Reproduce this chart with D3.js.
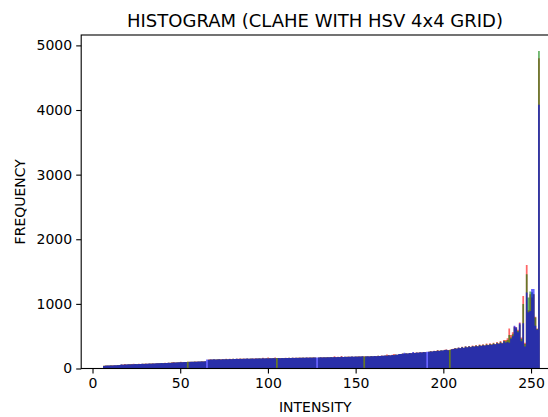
<!DOCTYPE html>
<html>
<head>
<meta charset="utf-8">
<script src="https://cdn.jsdelivr.net/npm/d3@7"></script>
<style>
  body { margin: 0; background: #fff; }
  svg text { font-family: "DejaVu Sans", sans-serif; fill: #000; }
</style>
</head>
<body>
<svg id="vis" width="548" height="417"></svg>
<script>
// histogram counts per bin, intensities 6..255 (one value per bin)
const firstBin = 6;
const lastBin = 255;

const redCounts = [
  42,46,48,47,50,49,52,51,54,56,
  63,60,70,63,66,68,68,72,70,69,
  72,71,74,73,76,75,78,77,80,79,
  82,84,83,86,85,88,87,90,89,96,
  100,93,96,98,104,99,102,101,106,104,
  106,105,108,107,110,109,112,111,114,0,
  140,142,140,144,141,143,146,142,146,144,
  150,145,149,146,150,148,151,149,156,150,
  153,151,155,152,154,156,153,157,155,158,
  156,165,157,160,170,161,159,162,172,164,
  163,161,164,162,165,163,166,164,167,165,
  168,166,169,167,170,168,171,169,172,170,
  173,171,0,172,175,173,176,174,177,175,
  178,176,190,177,180,178,195,179,183,181,
  184,182,186,183,187,185,188,186,190,189,
  189,191,188,193,190,195,192,197,194,200,
  198,203,215,207,204,211,225,216,213,222,
  226,232,230,236,234,240,238,244,242,248,
  246,252,250,257,254,0,260,270,264,275,
  272,285,276,282,280,290,294,286,290,300,
  305,318,310,326,316,338,322,345,330,348,
  336,355,346,362,350,370,356,375,360,385,
  368,390,375,400,380,410,392,425,400,440,
  440,470,620,520,560,650,640,600,710,480,
  1120,400,1600,900,1150,1100,1150,800,620,4800
];

const greenCounts = [
  41,45,47,46,49,48,51,50,53,55,
  61,59,63,62,65,64,67,66,69,68,
  71,70,73,72,75,74,77,76,79,78,
  81,83,86,85,84,87,86,89,88,91,
  93,92,95,97,99,98,101,100,103,103,
  105,104,107,106,109,108,111,110,113,0,
  137,141,139,143,140,142,144,141,145,143,
  146,144,148,145,149,147,150,148,151,149,
  152,150,154,151,153,155,152,156,154,157,
  155,158,156,159,157,160,158,161,159,162,
  162,160,163,161,164,162,165,163,166,164,
  167,165,168,166,169,167,170,168,171,169,
  172,170,0,171,174,172,175,173,176,174,
  177,175,178,176,179,177,181,178,182,180,
  183,181,185,182,186,184,187,185,189,186,
  188,190,187,192,189,194,191,196,193,199,
  197,202,200,206,203,210,207,215,212,224,
  225,231,229,235,233,239,237,243,241,247,
  245,251,249,256,253,0,259,266,263,272,
  270,278,274,282,280,288,292,284,285,298,
  303,314,308,323,314,334,320,340,328,344,
  333,350,342,356,346,362,352,368,356,375,
  363,380,370,390,375,400,385,412,392,430,
  420,440,520,480,530,640,620,580,680,460,
  1000,380,1460,1100,1190,1180,1150,790,610,4915
];

const blueCounts = [
  40,44,46,45,48,47,50,49,52,54,
  60,58,62,61,64,63,66,65,68,67,
  70,69,72,71,74,73,76,75,78,77,
  80,82,81,84,83,86,85,88,87,90,
  92,91,94,96,98,97,100,99,0,102,
  104,103,106,105,108,107,110,109,112,138,
  136,140,138,142,139,141,143,140,144,142,
  145,143,147,144,148,146,149,147,150,148,
  151,149,153,150,152,154,151,155,153,156,
  154,157,155,158,156,159,157,160,158,0,
  161,159,162,160,163,161,164,162,165,163,
  166,164,167,165,168,166,169,167,170,168,
  171,169,172,170,173,171,174,172,175,173,
  176,174,177,175,178,176,180,177,181,179,
  182,180,184,181,185,183,186,184,188,0,
  187,189,186,191,188,193,190,195,192,198,
  196,201,199,205,202,209,206,214,211,226,
  224,230,245,234,232,238,236,255,240,246,
  244,250,248,255,252,260,258,265,262,270,
  268,275,272,280,278,285,290,282,0,295,
  300,310,305,320,312,330,318,335,325,340,
  330,345,338,350,342,355,348,360,352,365,
  358,372,365,380,370,390,378,400,385,420,
  400,410,400,460,500,660,640,560,700,420,
  700,340,1175,870,890,1230,1230,660,600,4080
];

const xTicks = [0, 50, 100, 150, 200, 250];
const yTicks = [0, 1000, 2000, 3000, 4000, 5000];

const series = [
  { name: "red", color: "rgb(255,0,0)", counts: redCounts },
  { name: "green", color: "rgb(0,128,0)", counts: greenCounts },
  { name: "blue", color: "rgb(0,0,255)", counts: blueCounts }
];

// axes box (plot area in pixels)
var axL = 81.2, axR = 549.2, axT = 35, axB = 368.5;

var svg = d3.select("#vis");

var span = lastBin - firstBin;
var x = d3.scaleLinear()
  .domain([firstBin - 0.05 * span, 260.35])
  .range([axL, axR]);

var ymax = d3.max(series, s => d3.max(s.counts)) * 1.05;
var y = d3.scaleLinear().domain([0, ymax]).range([axB, axT]);

var nBins = redCounts.length;
var binW = span / nBins;

svg.append("defs").append("clipPath").attr("id", "clip")
  .append("rect").attr("x", axL).attr("y", axT)
  .attr("width", axR - axL).attr("height", axB - axT);

// one path per channel so the bars of a channel don't show seams
var plot = svg.append("g").attr("clip-path", "url(#clip)");
series.forEach(function (s) {
  var p = d3.path();
  s.counts.forEach(function (c, k) {
    if (c <= 0) return;
    var x0 = x(firstBin + k * binW), x1 = x(firstBin + (k + 1) * binW);
    p.rect(x0, y(c), x1 - x0, y(0) - y(c));
  });
  plot.append("path")
    .attr("d", p.toString())
    .attr("fill", s.color)
    .attr("fill-opacity", 0.6);
});

// x axis
var xAxis = svg.append("g")
  .attr("transform", "translate(0," + axB + ")")
  .call(d3.axisBottom(x).tickValues(xTicks).tickSize(5).tickPadding(5).tickFormat(d3.format("d")));
xAxis.select(".domain").remove();
xAxis.selectAll("line").attr("stroke", "#000").attr("stroke-width", 1.1);
xAxis.selectAll("text").attr("font-size", 14).attr("font-family", "DejaVu Sans").attr("fill", "#000");

// y axis
var yAxis = svg.append("g")
  .attr("transform", "translate(" + axL + ",0)")
  .call(d3.axisLeft(y).tickValues(yTicks).tickSize(5).tickPadding(4).tickFormat(d3.format("d")));
yAxis.select(".domain").remove();
yAxis.selectAll("line").attr("stroke", "#000").attr("stroke-width", 1.1);
yAxis.selectAll("text").attr("font-size", 14).attr("font-family", "DejaVu Sans").attr("fill", "#000");

// frame
svg.append("rect")
  .attr("x", axL).attr("y", axT)
  .attr("width", axR - axL).attr("height", axB - axT)
  .attr("fill", "none").attr("stroke", "#000").attr("stroke-width", 1.1);

// labels
svg.append("text")
  .attr("x", 315).attr("y", 27)
  .attr("text-anchor", "middle")
  .attr("font-size", 18)
  .text("HISTOGRAM (CLAHE WITH HSV 4x4 GRID)");

svg.append("text")
  .attr("x", (axL + axR) / 2).attr("y", 412)
  .attr("text-anchor", "middle")
  .attr("font-size", 14)
  .text("INTENSITY");

svg.append("text")
  .attr("transform", "translate(25," + (axT + axB) / 2 + ") rotate(-90)")
  .attr("text-anchor", "middle")
  .attr("font-size", 14)
  .text("FREQUENCY");
</script>
</body>
</html>
